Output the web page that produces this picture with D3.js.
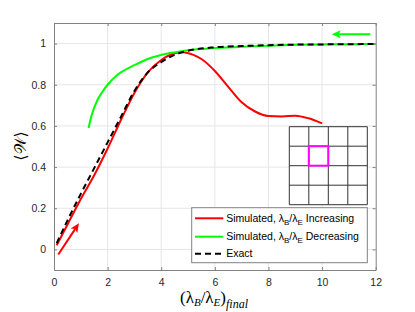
<!DOCTYPE html>
<html>
<head>
<meta charset="utf-8">
<script src="https://cdn.jsdelivr.net/npm/d3@7"></script>
<style>
  body { margin: 0; background: #fff; }
  svg { display: block; }
  .tick text { font-family: "Liberation Sans", Arial, sans-serif; font-size: 10.5px; fill: #262626; }
</style>
</head>
<body>
<div class="chart"></div>
<script>
// data
var xTicks = [0, 2, 4, 6, 8, 10, 12];
var yTicks = [0, 0.2, 0.4, 0.6, 0.8, 1];

var increasing = [
  [0.1, 0.02], [0.5, 0.12], [1.0, 0.245], [1.5, 0.36], [2.0, 0.49], [2.5, 0.63],
  [3.0, 0.76], [3.5, 0.86], [4.0, 0.92], [4.5, 0.953], [4.8, 0.958], [5.2, 0.945],
  [5.5, 0.925], [6.0, 0.867], [6.5, 0.79], [7.0, 0.715], [7.5, 0.67], [8.0, 0.648],
  [8.5, 0.646], [9.0, 0.65], [9.5, 0.637], [10.0, 0.612]
];
var decreasing = [
  [1.29, 0.59], [1.4, 0.65], [1.6, 0.72], [1.8, 0.765], [2.0, 0.80], [2.34, 0.845],
  [3.0, 0.895], [3.6, 0.93], [4.2, 0.951], [4.7, 0.962], [5.2, 0.97], [6.0, 0.978],
  [7.0, 0.985], [8.0, 0.99], [9.0, 0.994], [10.0, 0.996], [11.0, 0.997], [12.0, 0.998]
];
var exact = [
  [0.1, 0.03], [0.5, 0.14], [1.0, 0.27], [1.5, 0.395], [2.0, 0.52], [2.5, 0.645],
  [3.0, 0.77], [3.5, 0.86], [4.0, 0.91], [4.5, 0.945], [5.0, 0.965], [6.0, 0.982],
  [7.0, 0.988], [8.0, 0.992], [9.0, 0.995], [10.0, 0.996], [11.0, 0.997], [12.0, 0.998]
];
// arrows: [x0, y0, x1, y1] in data units
var redArrow = [0.16, -0.025, 0.93, 0.127];
var greenArrow = [11.8, 1.045, 10.36, 1.045];

var legendNames = ["Simulated, λ|B|/λ|E| Increasing", "Simulated, λ|B|/λ|E| Decreasing", "Exact"];

var svgWidth = 415, svgHeight = 312;
var margin = {top: 23, right: 39.3, bottom: 42, left: 54};
var width = svgWidth - margin.left - margin.right;
var height = svgHeight - margin.top - margin.bottom;

var svg = d3.select(".chart").append("svg")
  .attr("width", svgWidth)
  .attr("height", svgHeight);

var chartGroup = svg.append("g")
  .attr("transform", `translate(${margin.left}, ${margin.top})`);

var x = d3.scaleLinear().domain([0, 12]).range([0, width]);
var y = d3.scaleLinear().domain([-0.1, 1.1]).range([height, 0]);

// grid
chartGroup.append("g").selectAll("line").data(xTicks.slice(1, -1)).enter().append("line")
  .attr("x1", d => x(d)).attr("x2", d => x(d))
  .attr("y1", 0).attr("y2", height)
  .attr("stroke", "#e6e6e6");
chartGroup.append("g").selectAll("line").data(yTicks).enter().append("line")
  .attr("y1", d => y(d)).attr("y2", d => y(d))
  .attr("x1", 0).attr("x2", width)
  .attr("stroke", "#e6e6e6");

var line = d3.line().x(d => x(d[0])).y(d => y(d[1])).curve(d3.curveMonotoneX);

chartGroup.append("path").datum(increasing)
  .attr("d", line).attr("fill", "none")
  .attr("stroke", "#ff0000").attr("stroke-width", 2);
chartGroup.append("path").datum(decreasing)
  .attr("d", line).attr("fill", "none")
  .attr("stroke", "#00ff00").attr("stroke-width", 2);
chartGroup.append("path").datum(exact)
  .attr("d", line).attr("fill", "none")
  .attr("stroke", "#000").attr("stroke-width", 2)
  .attr("stroke-dasharray", "6,4");

// arrows
function drawArrow(a, color) {
  var x0 = x(a[0]), y0 = y(a[1]), x1 = x(a[2]), y1 = y(a[3]);
  var ang = Math.atan2(y1 - y0, x1 - x0);
  var len = 9, wid = 4;
  var bx = x1 - len * Math.cos(ang), by = y1 - len * Math.sin(ang);
  chartGroup.append("line")
    .attr("x1", x0).attr("y1", y0).attr("x2", bx + 2 * Math.cos(ang)).attr("y2", by + 2 * Math.sin(ang))
    .attr("stroke", color).attr("stroke-width", 2);
  var pts = [
    [x1, y1],
    [bx - wid * Math.sin(ang), by + wid * Math.cos(ang)],
    [bx + 2 * Math.cos(ang), by + 2 * Math.sin(ang)],
    [bx + wid * Math.sin(ang), by - wid * Math.cos(ang)]
  ];
  chartGroup.append("polygon")
    .attr("points", pts.map(p => p.join(",")).join(" "))
    .attr("fill", color);
}
drawArrow(redArrow, "#ff0000");
drawArrow(greenArrow, "#00ff00");

// inset lattice with highlighted cell
var inset = svg.append("g").attr("transform", "translate(289.3, 126.7)");
var cell = 19.5;
inset.append("rect").attr("width", cell * 4).attr("height", cell * 4).attr("fill", "#fff");
d3.range(5).forEach(function(i) {
  inset.append("line").attr("x1", i * cell).attr("x2", i * cell).attr("y1", 0).attr("y2", cell * 4)
    .attr("stroke", "#333").attr("stroke-width", 1);
  inset.append("line").attr("y1", i * cell).attr("y2", i * cell).attr("x1", 0).attr("x2", cell * 4)
    .attr("stroke", "#333").attr("stroke-width", 1);
});
inset.append("rect").attr("x", cell).attr("y", cell).attr("width", cell).attr("height", cell)
  .attr("fill", "none").attr("stroke", "#ff00ff").attr("stroke-width", 2);

// axes
var fmt = d => String(d);
var bottomAxis = d3.axisBottom(x).tickValues(xTicks).tickSizeInner(-3).tickSizeOuter(0).tickPadding(9).tickFormat(fmt);
var topAxis = d3.axisTop(x).tickValues(xTicks).tickSizeInner(-3).tickSizeOuter(0).tickFormat("");
var leftAxis = d3.axisLeft(y).tickValues(yTicks).tickSizeInner(-3).tickSizeOuter(0).tickPadding(8).tickFormat(fmt);
var rightAxis = d3.axisRight(y).tickValues(yTicks).tickSizeInner(-3).tickSizeOuter(0).tickFormat("");

[chartGroup.append("g").attr("transform", `translate(0, ${height})`).call(bottomAxis),
 chartGroup.append("g").call(topAxis),
 chartGroup.append("g").call(leftAxis),
 chartGroup.append("g").attr("transform", `translate(${width}, 0)`).call(rightAxis)
].forEach(function(g) {
  g.select(".domain").attr("stroke", "#808080");
  g.selectAll(".tick line").attr("stroke", "#808080");
});

// legend
var legend = svg.append("g").attr("transform", "translate(191.7, 207.7)");
legend.append("rect").attr("width", 175.6).attr("height", 55)
  .attr("fill", "#fff").attr("stroke", "#808080");
var legendColors = ["#ff0000", "#00ff00", "#000"];
var legendY = [10.6, 29, 46];
legendNames.forEach(function(name, i) {
  legend.append("line").attr("x1", 3.3).attr("x2", 31.6)
    .attr("y1", legendY[i]).attr("y2", legendY[i])
    .attr("stroke", legendColors[i]).attr("stroke-width", 2)
    .attr("stroke-dasharray", i == 2 ? "6,4" : null);
  var t = legend.append("text").attr("x", 34.5).attr("y", legendY[i] + 3.8)
    .attr("font-family", "Liberation Sans, Arial, sans-serif").attr("font-size", "10.5px")
    .attr("fill", "#000");
  name.split("|").forEach(function(part, k) {
    var ts = t.append("tspan").text(part);
    if (k % 2 == 1) ts.attr("font-size", "8px").attr("dy", 3);
    else if (k > 0) ts.attr("dy", -3);
  });
});

// axis labels
svg.append("text")
  .attr("transform", "translate(26, 146) rotate(-90)")
  .attr("text-anchor", "middle")
  .attr("font-family", "DejaVu Serif, serif").attr("font-size", "16px")
  .text("⟨𝒲⟩");

var xl = svg.append("text").attr("x", 214).attr("y", 303).attr("text-anchor", "middle")
  .attr("font-family", "Liberation Serif, serif").attr("font-size", "17px").attr("fill", "#000");
xl.append("tspan").text("(λ");
xl.append("tspan").text("B").attr("font-style", "italic").attr("font-size", "11px").attr("dy", 3);
xl.append("tspan").text("/λ").attr("dy", -3);
xl.append("tspan").text("E").attr("font-style", "italic").attr("font-size", "11px").attr("dy", 3);
xl.append("tspan").text(")").attr("dy", -3);
xl.append("tspan").text("final").attr("font-style", "italic").attr("font-size", "12px").attr("dy", 5);
</script>
</body>
</html>
